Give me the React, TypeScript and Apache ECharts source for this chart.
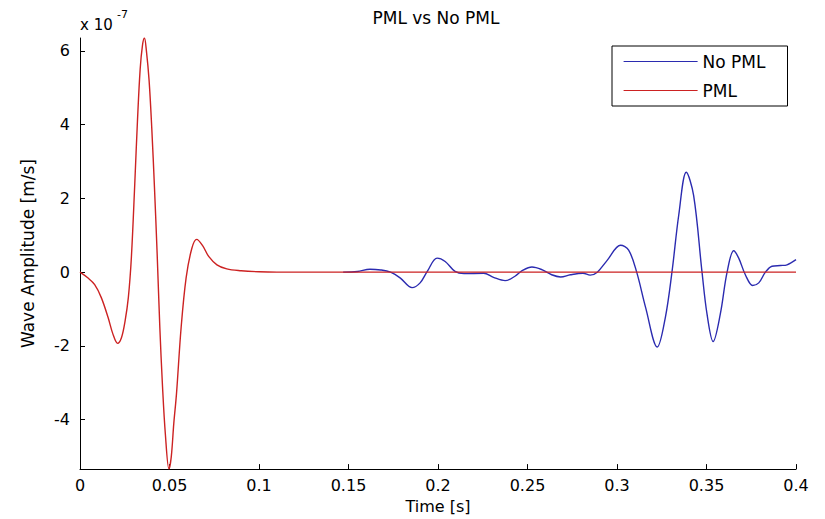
import React, { useEffect, useRef } from "react";
import * as echarts from "echarts";

// Time [s] and amplitude in units of 1e-7 m/s
const noPmlSeries: [number, number][] = [
  [0.147, 0.0], [0.155, 0.02], [0.162, 0.08], [0.168, 0.06], [0.1735, 0.0],
  [0.179, -0.16], [0.1855, -0.42], [0.19, -0.29], [0.194, 0.02], [0.1995, 0.38],
  [0.204, 0.29], [0.2095, 0.02], [0.2145, -0.04], [0.2255, -0.03], [0.231, -0.14],
  [0.2375, -0.23], [0.243, -0.11], [0.247, 0.04], [0.2525, 0.14], [0.258, 0.07],
  [0.2635, -0.07], [0.2685, -0.13], [0.274, -0.07], [0.281, -0.03], [0.285, -0.08],
  [0.289, 0.0], [0.2945, 0.32], [0.302, 0.73], [0.3065, 0.6], [0.311, 0.0],
  [0.316, -0.96], [0.3225, -2.03], [0.327, -1.23], [0.3307, 0.0], [0.3345, 1.55],
  [0.3387, 2.71], [0.3428, 2.08], [0.3475, 0.0], [0.3503, -1.14], [0.3537, -1.88],
  [0.3577, -1.14], [0.3615, 0.0], [0.3652, 0.58], [0.368, 0.38], [0.3717, -0.07],
  [0.3758, -0.36], [0.3792, -0.29], [0.3829, 0.0], [0.3866, 0.16], [0.3913, 0.18],
  [0.395, 0.2], [0.4, 0.34],
];

const pmlSeries: [number, number][] = [
  [0, 0], [0.0045, -0.16], [0.0082, -0.34], [0.0119, -0.69], [0.0157, -1.23],
  [0.0184, -1.68], [0.021, -1.93], [0.0232, -1.77], [0.0252, -1.32], [0.027, -0.69],
  [0.0287, 0.4], [0.0306, 2.4], [0.0321, 4.1], [0.0336, 5.5], [0.0349, 6.15],
  [0.036, 6.35], [0.0371, 6.0], [0.0386, 5.2], [0.0401, 3.9], [0.0416, 2.3],
  [0.0431, 0.5], [0.0446, -1.5], [0.0461, -3.1], [0.0477, -4.4], [0.0497, -5.34],
  [0.051, -5.0], [0.0524, -4.1], [0.0539, -3.3], [0.0565, -1.5], [0.0593, -0.15],
  [0.0625, 0.65], [0.0652, 0.89], [0.0685, 0.72], [0.072, 0.42], [0.0765, 0.2],
  [0.082, 0.09], [0.09, 0.04], [0.1, 0.01], [0.11, 0], [0.2, 0], [0.3, 0], [0.4, 0],
];

const yTicks = [-4, -2, 0, 2, 4, 6];
const seriesNames = ["No PML", "PML"];

const FONT = "DejaVu Sans";

export default function App() {
  const ref = useRef<HTMLDivElement>(null);
  useEffect(() => {
    document.body.style.margin = "0";
    const chart = echarts.init(ref.current!, undefined, { renderer: "svg" });
    chart.setOption({
      animation: false,
      backgroundColor: "#ffffff",
      grid: { left: 80, right: 29, top: 38, bottom: 46 },
      graphic: [
        {
          type: "text", x: 436, y: 18,
          style: { text: "PML vs No PML", fontFamily: FONT, fontSize: 17, fill: "#000", textAlign: "center", textVerticalAlign: "middle" },
        },
        {
          type: "text", x: 80, y: 25,
          style: { text: "x 10", fontFamily: FONT, fontSize: 15, fill: "#000", textAlign: "left", textVerticalAlign: "middle" },
        },
        {
          type: "text", x: 117, y: 14,
          style: { text: "-7", fontFamily: FONT, fontSize: 11, fill: "#000", textAlign: "left", textVerticalAlign: "middle" },
        },
      ],
      legend: {
        orient: "vertical",
        left: 612,
        top: 46,
        data: seriesNames,
        itemWidth: 74,
        itemHeight: 14,
        itemGap: 12,
        itemTextGap: 2,
        padding: [7, 22, 7, 11],
        borderColor: "#000",
        borderWidth: 1,
        backgroundColor: "#fff",
        itemStyle: { opacity: 0 },
        lineStyle: { width: 1.2 },
        textStyle: { fontFamily: FONT, fontSize: 17, color: "#000" },
      },
      xAxis: {
        type: "value",
        min: 0,
        max: 0.4,
        interval: 0.05,
        name: "Time [s]",
        nameLocation: "middle",
        nameGap: 28,
        nameTextStyle: { fontFamily: FONT, fontSize: 16, color: "#000" },
        axisLine: { show: true, onZero: false, lineStyle: { color: "#000", width: 1 } },
        axisTick: { show: true, inside: true, length: 5, lineStyle: { color: "#000" } },
        axisLabel: {
          fontFamily: FONT, fontSize: 16, color: "#000", margin: 8,
          formatter: (v: number) => parseFloat(v.toFixed(2)).toString(),
        },
        splitLine: { show: false },
      },
      yAxis: {
        type: "value",
        min: -5.34,
        max: 6.35,
        name: "Wave Amplitude [m/s]",
        nameLocation: "middle",
        nameGap: 44,
        nameTextStyle: { fontFamily: FONT, fontSize: 17, color: "#000" },
        axisLine: { show: true, lineStyle: { color: "#000", width: 1 } },
        axisTick: { show: true, inside: true, length: 5, customValues: yTicks, lineStyle: { color: "#000" } },
        axisLabel: {
          fontFamily: FONT, fontSize: 16, color: "#000", margin: 10,
          customValues: yTicks,
          formatter: (v: number) => String(Math.round(v)),
        },
        splitLine: { show: false },
      },
      series: [
        {
          name: seriesNames[0],
          type: "line",
          data: noPmlSeries,
          symbol: "none",
          smooth: 0.35,
          lineStyle: { color: "#2b2bb0", width: 1.4 },
          itemStyle: { color: "#2b2bb0" },
        },
        {
          name: seriesNames[1],
          type: "line",
          data: pmlSeries,
          symbol: "none",
          smooth: 0.35,
          lineStyle: { color: "#cc2222", width: 1.4 },
          itemStyle: { color: "#cc2222" },
        },
      ],
    });
    return () => chart.dispose();
  }, []);
  return <div ref={ref} style={{ width: 825, height: 519 }} />;
}
